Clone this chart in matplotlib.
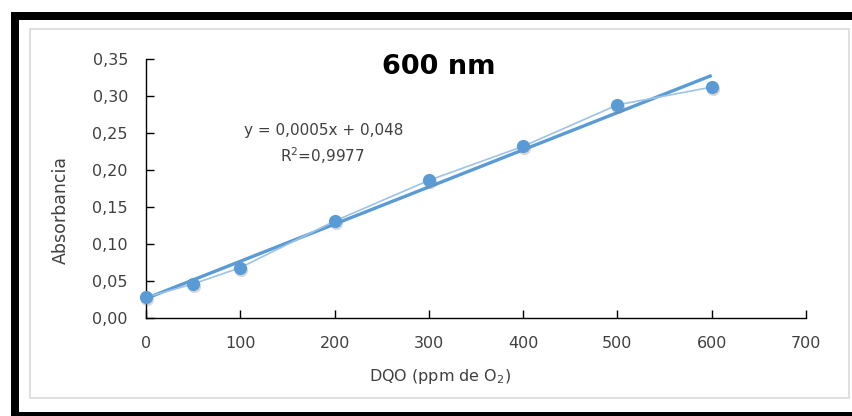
import matplotlib.pyplot as plt
from matplotlib.patches import Rectangle
from matplotlib.ticker import FuncFormatter, MultipleLocator
from matplotlib.transforms import offset_copy
import numpy as np

plt.rcParams['font.family'] = ['DejaVu Sans']

# data
dqo = [0, 50, 100, 200, 300, 400, 500, 600]
absorbancia = [0.028, 0.046, 0.068, 0.131, 0.186, 0.232, 0.288, 0.312]
title = "600 nm"
equation = "y = 0,0005x + 0,048"
r2_text = "R$^2$=0,9977"

blue = '#5b9bd5'
text_col = '#404040'

fig = plt.figure(figsize=(8.53, 4.16), dpi=100)
W, H = 853, 416

# black frame around the picture
frame = [(11, 0, 8, 404), (11, 396, W - 11, 8), (11, 0, W - 11, 4)]
for x0, y0, w, h in frame:
    fig.patches.append(Rectangle((x0 / W, y0 / H), w / W, h / H, transform=fig.transFigure,
                                 facecolor='black', edgecolor='none', zorder=-2))
# light grey chart area border
fig.patches.append(Rectangle((30 / W, 18 / H), 819 / W, 369 / H, transform=fig.transFigure,
                             facecolor='white', edgecolor='#d9d9d9', lw=1.2, zorder=-1))

ax = fig.add_axes([146 / W, 98 / H, 660 / W, 259 / H])
ax.set_facecolor('none')
ax.set_zorder(1)

# linear trend line
coef = np.polyfit(dqo, absorbancia, 1)
xs = np.array([0, 600])
ax.plot(xs, np.polyval(coef, xs), color=blue, lw=2.4, solid_capstyle='butt', zorder=2)

# data series with soft marker shadow
ax.plot(dqo, absorbancia, color='#9dc3e6', lw=1.2, zorder=3)
shadow = offset_copy(ax.transData, fig=fig, x=1, y=-2, units='dots')
ax.plot(dqo, absorbancia, 'o', color='#7f7f7f', alpha=0.3, ms=9.5, mec='none',
        transform=shadow, zorder=3.5, clip_on=False)
ax.plot(dqo, absorbancia, 'o', color=blue, ms=9.5, mec='none', zorder=4, clip_on=False)

ax.set_xlim(0, 700)
ax.set_ylim(0, 0.35)
ax.xaxis.set_major_locator(MultipleLocator(100))
ax.yaxis.set_major_locator(MultipleLocator(0.05))
ax.yaxis.set_major_formatter(FuncFormatter(lambda v, p: f"{v:.2f}".replace('.', ',')))

for s in ['top', 'right']:
    ax.spines[s].set_visible(False)
for s in ['left', 'bottom']:
    ax.spines[s].set_color('black')
    ax.spines[s].set_linewidth(1.0)

ax.tick_params(axis='both', direction='in', length=6, width=1, color='black',
               labelsize=11.5, labelcolor=text_col)
ax.tick_params(axis='x', pad=13)
ax.tick_params(axis='y', pad=13)

ax.set_xlabel("DQO (ppm de O$_2$)", fontsize=11.5, color=text_col)
ax.set_ylabel("Absorbancia", fontsize=12.5, color=text_col)
ax.xaxis.set_label_coords(0.445, -0.19)
ax.yaxis.set_label_coords(-0.115, 0.417)

ax.text(310, 0.339, title, fontsize=19.5, fontweight='bold', color='black',
        ha='center', va='center')
ax.text(188, 0.253, equation, fontsize=11, color=text_col, ha='center', va='center')
ax.text(187, 0.220, r2_text, fontsize=11, color=text_col, ha='center', va='center')

fig.savefig('out.png', dpi=100)
